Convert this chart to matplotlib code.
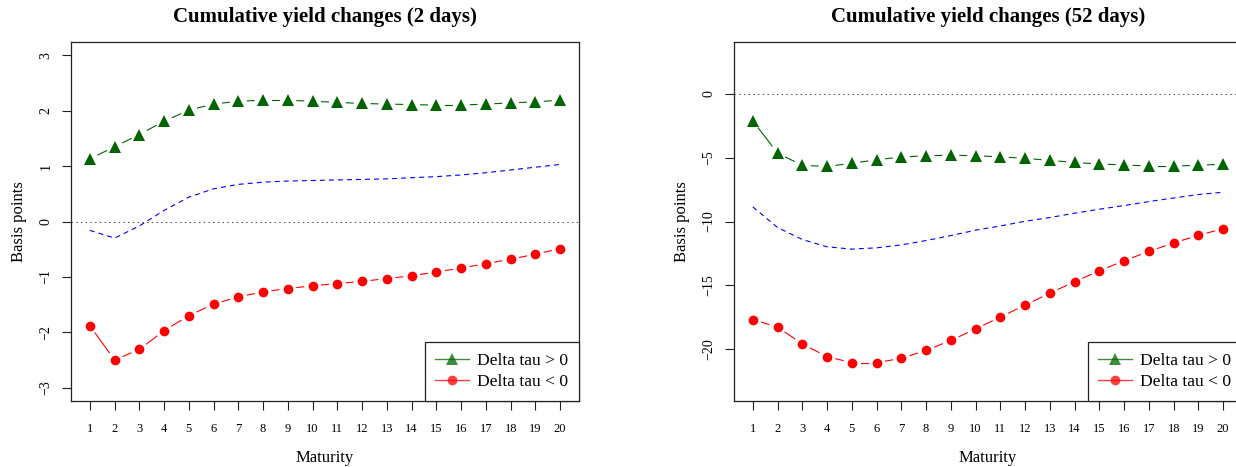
import numpy as np
import matplotlib
matplotlib.use("Agg")
import matplotlib.pyplot as plt
from matplotlib.lines import Line2D

plt.rcParams['font.family'] = ['Liberation Serif', 'DejaVu Serif']
plt.rcParams['lines.scale_dashes'] = False

# data
maturity = np.arange(1, 21)

# 2 days
up_2 = [1.13, 1.35, 1.57, 1.81, 2.01, 2.12, 2.17, 2.19, 2.19, 2.17,
        2.15, 2.13, 2.12, 2.11, 2.10, 2.10, 2.12, 2.14, 2.16, 2.19]
down_2 = [-1.88, -2.50, -2.31, -1.97, -1.70, -1.49, -1.36, -1.27, -1.21, -1.16,
          -1.12, -1.08, -1.03, -0.98, -0.91, -0.84, -0.76, -0.68, -0.59, -0.49]
avg_2 = [-0.16, -0.30, -0.08, 0.20, 0.44, 0.59, 0.67, 0.71, 0.73, 0.74,
         0.75, 0.76, 0.77, 0.79, 0.81, 0.84, 0.88, 0.93, 0.98, 1.03]

# 52 days
up_52 = [-2.13, -4.65, -5.61, -5.69, -5.45, -5.17, -4.96, -4.86, -4.81, -4.86,
         -4.94, -5.06, -5.22, -5.38, -5.50, -5.58, -5.66, -5.66, -5.61, -5.51]
down_52 = [-17.68, -18.26, -19.58, -20.57, -21.04, -21.04, -20.70, -20.08, -19.30, -18.41,
           -17.47, -16.54, -15.60, -14.71, -13.85, -13.07, -12.34, -11.67, -11.09, -10.55]
avg_52 = [-8.86, -10.47, -11.41, -11.98, -12.16, -12.06, -11.83, -11.49, -11.10, -10.68,
          -10.35, -9.98, -9.69, -9.35, -9.04, -8.75, -8.44, -8.16, -7.89, -7.71]

titles = ['Cumulative yield changes (2 days)', 'Cumulative yield changes (52 days)']
ylims = [(-3.24, 3.24), (-24.04, 4.04)]
yticks = [[-3, -2, -1, 0, 1, 2, 3], [-20, -15, -10, -5, 0]]
legend_labels = ['Delta tau > 0', 'Delta tau < 0']

GREEN = '#006400'
RED = '#FF0000'
BLUE = '#0000FF'

W, H = 1236, 467
fig = plt.figure(figsize=(W / 100, H / 100), dpi=100)


def r_type_b(ax, x, y, color, marker, ms, gap=9.0):
    # points joined by segments that stop short of each point, like R's type="b"
    ax.plot(x, y, linestyle='none', marker=marker, color=color, ms=ms,
            markeredgewidth=0, zorder=3)
    pts = ax.transData.transform(np.column_stack([x, y]))
    inv = ax.transData.inverted()
    for i in range(len(x) - 1):
        p0, p1 = pts[i], pts[i + 1]
        d = p1 - p0
        L = np.hypot(d[0], d[1])
        if L <= 2 * gap:
            continue
        u = d / L
        seg = inv.transform(np.array([p0 + u * gap, p1 - u * gap]))
        ax.plot(seg[:, 0], seg[:, 1], color=color, lw=0.8, zorder=2)


panels = [(up_2, down_2, avg_2), (up_52, down_52, avg_52)]
lefts = [71, 734]
for k, (up, down, avg) in enumerate(panels):
    ax = fig.add_axes([lefts[k] / W, 1 - 401 / H, 508 / W, 359 / H])
    ax.set_xlim(0.24, 20.76)
    ax.set_ylim(*ylims[k])

    ax.axhline(0, color='#444444', lw=0.7, linestyle=(0, (1.0, 2.4)), zorder=1)
    ax.plot(maturity, avg, color=BLUE, lw=0.8, linestyle=(0, (3.6, 2.9)), zorder=2)
    r_type_b(ax, maturity, up, GREEN, '^', 8.5)
    r_type_b(ax, maturity, down, RED, 'o', 7.0)

    ax.set_xticks(maturity)
    ax.set_xticklabels([str(m) for m in maturity], fontsize=9)
    ax.set_yticks(yticks[k])
    ax.set_yticklabels([str(v).replace('-', '\u2212') for v in yticks[k]],
                       fontsize=10, rotation=90, va='center')
    ax.tick_params(axis='both', direction='out', length=6.5, width=0.8, color='#222222')
    ax.tick_params(axis='x', pad=9.5)
    ax.tick_params(axis='y', pad=7)
    for sp in ax.spines.values():
        sp.set_linewidth(0.9)
        sp.set_color('#222222')

    ax.set_xlabel('Maturity', fontsize=12)
    ax.xaxis.set_label_coords(0.5, -0.158)
    ax.xaxis.label.set_va('center')
    ax.set_ylabel('Basis points', fontsize=12)
    ax.yaxis.set_label_coords(-0.103, 0.5)
    ax.yaxis.label.set_va('center')

    ax.text(0.5, 1 + 25 / 359, titles[k], transform=ax.transAxes, ha='center',
            va='center', fontsize=15, fontweight='bold')

    handles = [Line2D([], [], color=GREEN, marker='^', ms=8.5, lw=1.0, alpha=0.75,
                      markeredgewidth=0),
               Line2D([], [], color=RED, marker='o', ms=7.0, lw=1.0, alpha=0.75,
                      markeredgewidth=0)]
    leg = ax.legend(handles, legend_labels, loc='lower right', fontsize=12.6,
                    frameon=True, fancybox=False, borderaxespad=0, framealpha=1,
                    edgecolor='#222222', handlelength=1.9, handletextpad=0.5,
                    borderpad=0.6, labelspacing=0.3)
    leg.get_frame().set_linewidth(0.9)

fig.savefig('out.png', dpi=100)
